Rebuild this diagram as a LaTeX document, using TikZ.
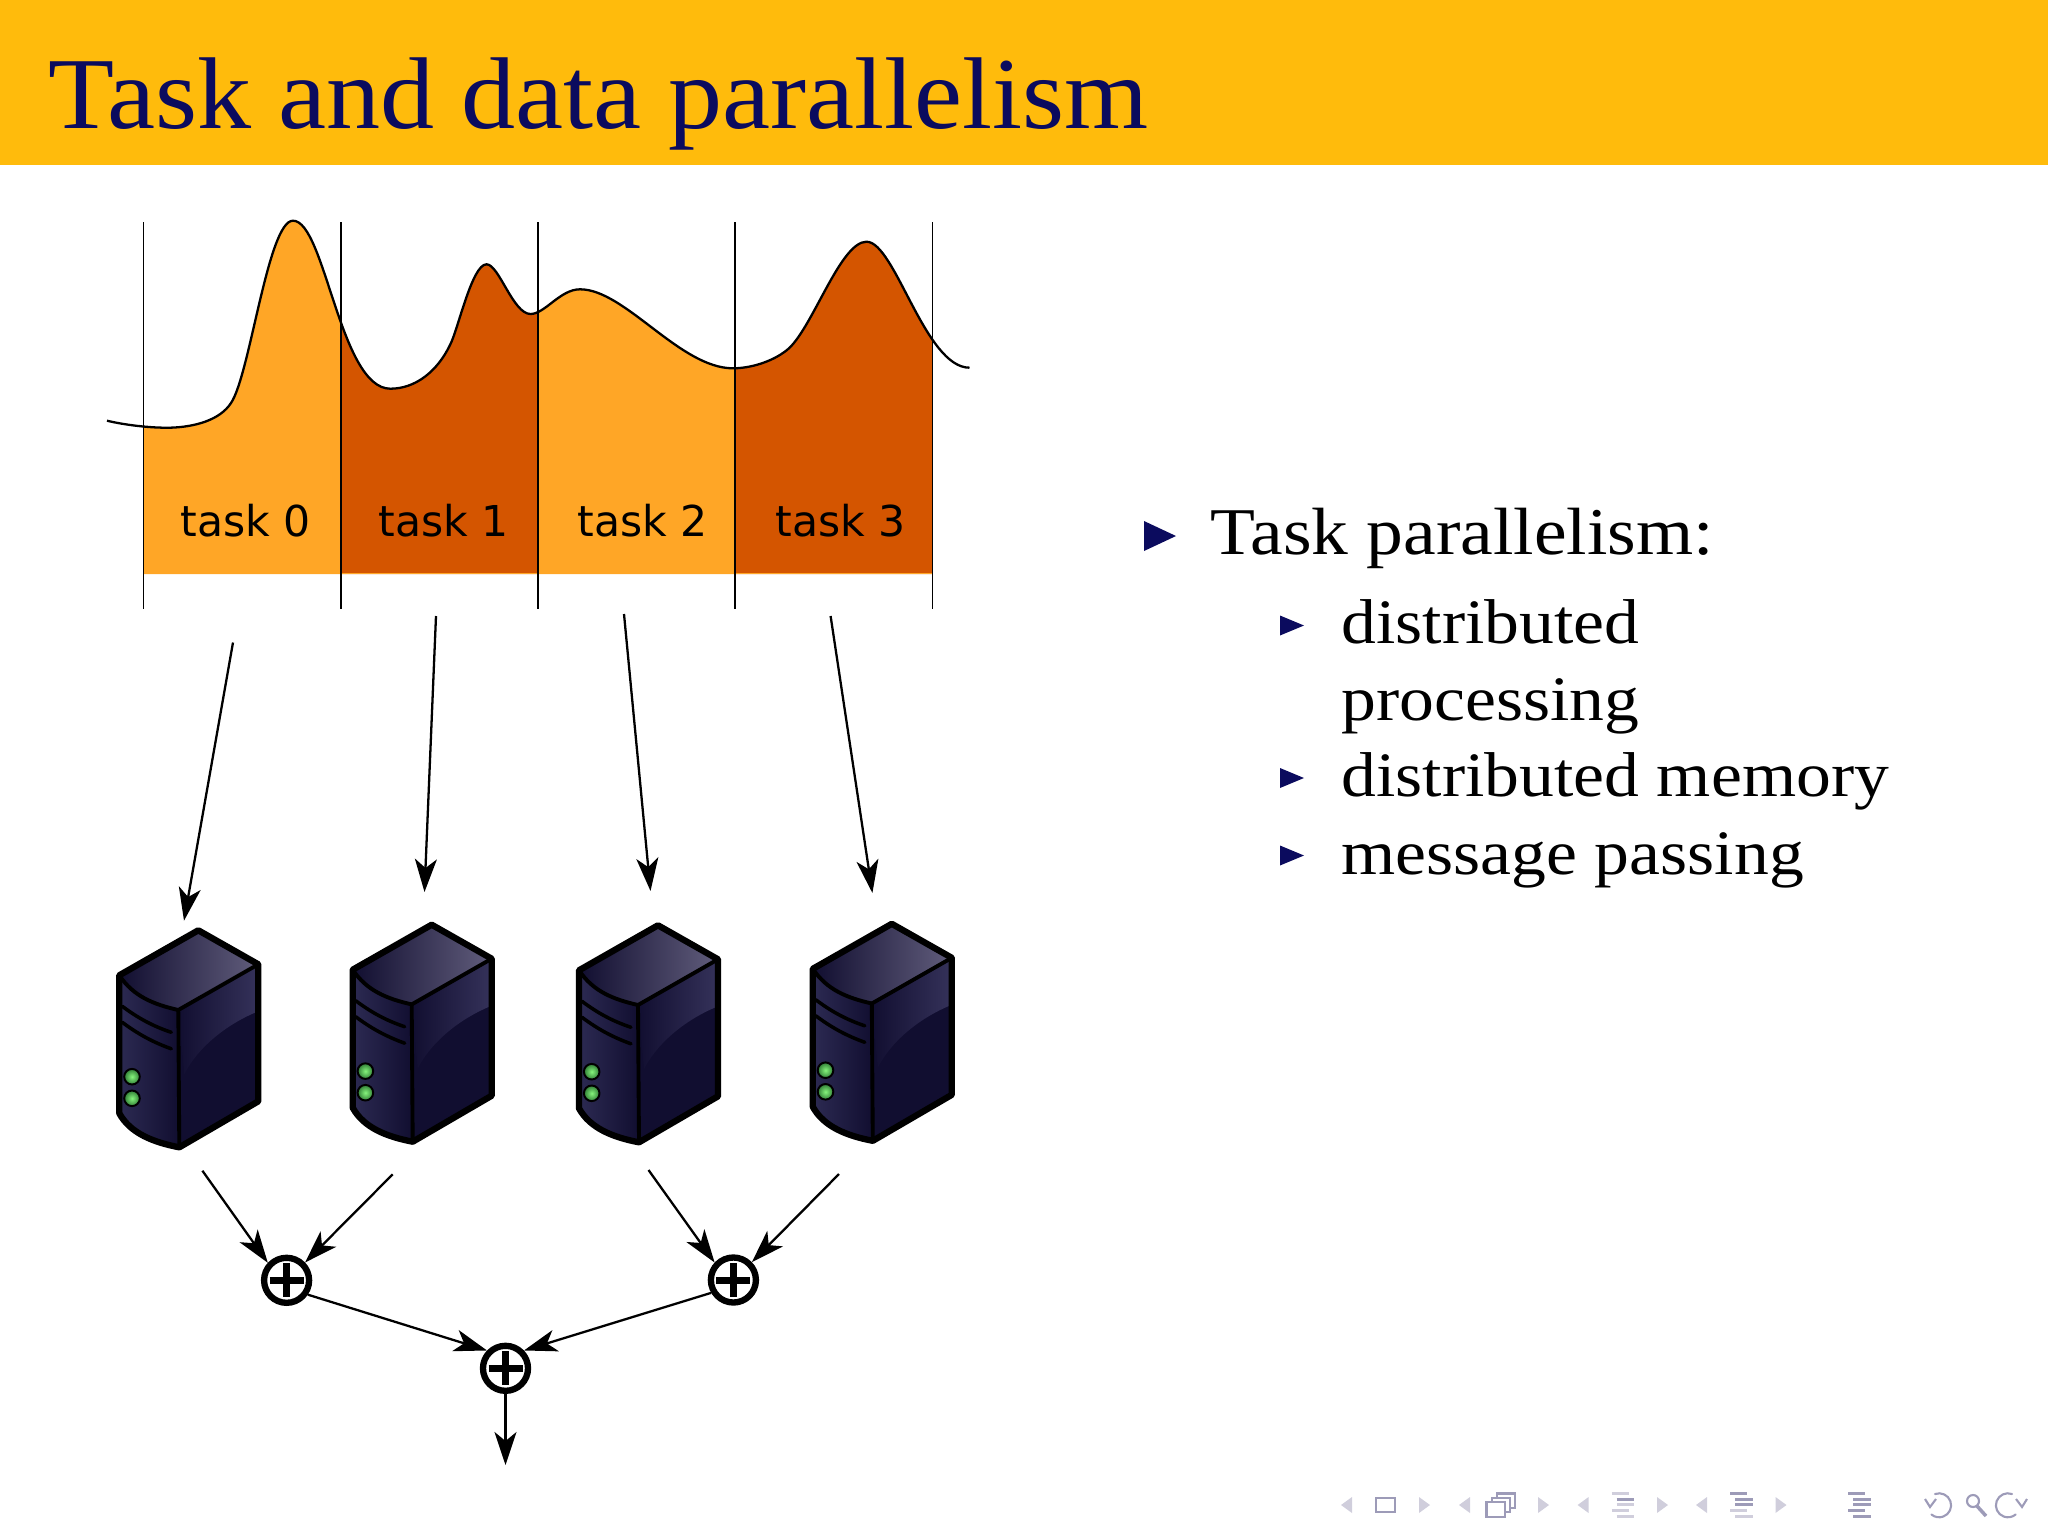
\documentclass[tikz,border=0pt]{standalone}
\usepackage{fontspec}
\usepackage{tikz}
\usetikzlibrary{arrows.meta}
\setmainfont{Liberation Serif}
\newfontfamily\titlefont[FakeStretch=1.06]{Liberation Serif}
\newfontfamily\bodyfont[FakeStretch=1.1]{Liberation Serif}
\newfontfamily\taskfont{DejaVu Sans}

\definecolor{bandcol}{HTML}{FFBB0C}
\definecolor{navycol}{HTML}{0B0B5E}
\definecolor{lightload}{HTML}{FFA626}
\definecolor{darkload}{HTML}{D45500}
\definecolor{srvdeep}{HTML}{110E30}
\definecolor{srvmid}{HTML}{2C2A52}
\definecolor{srvpale}{HTML}{615D7C}
\definecolor{srvgloss}{HTML}{35325A}
\definecolor{ledout}{HTML}{2F7D35}
\definecolor{ledin}{HTML}{86F47C}
\definecolor{navpale}{HTML}{D0CEDC}
\definecolor{navdark}{HTML}{9D9BB8}

\newcommand{\loadcurve}{(107,420.7) .. controls (125,425) and (150,428) .. (170,427.7)
	.. controls (195,427) and (220,420) .. (231,403)
	.. controls (250,375) and (268,220.7) .. (293,220.7)
	.. controls (325,220.7) and (340,388.7) .. (390.3,388.7)
	.. controls (415,388.7) and (437,372) .. (450,345)
	.. controls (458,330) and (472,264.3) .. (486.5,264.3)
	.. controls (499,264.3) and (513,314) .. (530.5,314)
	.. controls (545,314) and (560,289.3) .. (580,289.3)
	.. controls (625,289.3) and (680,368.3) .. (733,368.3)
	.. controls (750,368.3) and (772,362) .. (787,350)
	.. controls (812,330) and (840,241.7) .. (866.5,241.7)
	.. controls (895,241.7) and (925,367.7) .. (969.5,367.7)}

\tikzset{
	flow/.style={-{Stealth[length=3.3mm,width=2.2mm,inset=0.9mm]},line width=0.65pt},
	sum/.style={circle,draw,line width=1.8pt,minimum size=0.45cm,inner sep=0pt,fill=white,
		path picture={
			\draw[line width=2pt] (path picture bounding box.center) +(-17,0) -- +(17,0);
			\draw[line width=2pt] (path picture bounding box.center) +(0,-17) -- +(0,17);
		}},
	led/.style={inner color=ledin,outer color=ledout},
	server/.pic={
		\shade[left color=srvdeep,right color=srvpale] (-79,47) -- (0,2) -- (60,36) -- (-20,81.7) .. controls (-45,76) and (-65,68) .. cycle;
		\shade[left color=srvmid,middle color=srvpale,right color=srvdeep] (-79,47) .. controls (-65,68) and (-45,76) .. (-20,81.7) -- (-19,219) .. controls (-45,214) and (-68,205) .. (-79,185) -- cycle;
		\fill[srvdeep] (-20,81.7) -- (60,36) -- (60,173) -- (-19,219) -- cycle;
		\shade[left color=srvdeep,right color=srvgloss] (-20,81.7) -- (60,36) -- (60,83) .. controls (30,95) and (0,118) .. (-14,146) -- cycle;
		\draw[line width=1.1pt] (-20,81.7) -- (60,36);
		\draw[line width=1.1pt] (-79,47) .. controls (-65,68) and (-45,76) .. (-20,81.7) -- (-19,219);
		\draw[line width=1pt,line cap=round] (-76,78) .. controls (-60,90) and (-45,98) .. (-27,104);
		\draw[line width=1pt,line cap=round] (-76,94) .. controls (-60,106) and (-45,114) .. (-27,120.5);
		\shade[led,draw=black,line width=0.55pt] (-66.3,148.4) circle[radius=7.8];
		\shade[led,draw=black,line width=0.55pt] (-66.3,170) circle[radius=7.8];
		\draw[line width=1.8pt,line join=round] (-79,47) -- (0,2) -- (60,36) -- (60,173) -- (-19,219) .. controls (-45,214) and (-68,205) .. (-79,185) -- cycle;
	}
}

\begin{document}
\begin{tikzpicture}[x=0.01cm,y=-0.01cm,>=Stealth]
	\useasboundingbox (0,0) rectangle (2048,1536);
	\fill[bandcol] (0,0) rectangle (2048,165);
	\node[anchor=base west,inner sep=0pt,text=navycol,font=\titlefont\fontsize{29pt}{34pt}\selectfont] (title) at (48,128) {Task and data parallelism};

	% load curve, cut in four tasks
	\foreach \xa/\xb/\loadcol in {143.5/341/lightload,341/538/darkload,538/735/lightload,735/932.5/darkload}{
		\begin{scope}
			\clip (\xa,200) rectangle (\xb,574);
			\fill[\loadcol] \loadcurve -- (972,574) -- (107,574) -- cycle;
		\end{scope}
	}
	\fill[lightload] (143.5,572.5) rectangle (932.5,574);
	\draw[line width=0.65pt] \loadcurve;
	\foreach \x in {143.5,341,538,735,932.5}
		\draw[line width=0.55pt] (\x,222) -- (\x,609);
	\foreach \n/\x in {0/245.5,1/444,2/642.5,3/841}
		\node[anchor=base,inner sep=0pt,font=\taskfont\fontsize{12.1pt}{14pt}\selectfont] (task\n) at (\x,536.5) {task \n};

	% servers
	\pic (srv0) at (198.3,928.3) {server};
	\pic (srv1) at (431.7,922.7) {server};
	\pic (srv2) at (658,923.3) {server};
	\pic (srv3) at (891.8,921.8) {server};

	\coordinate (tskout0) at (233,642.5);
	\coordinate (srvin0) at (184,920.7);
	\coordinate (tskout1) at (436,616);
	\coordinate (srvin1) at (424.5,892);
	\coordinate (tskout2) at (624,614);
	\coordinate (srvin2) at (650.5,891);
	\coordinate (tskout3) at (830.6,616);
	\coordinate (srvin3) at (872.4,893);
	\foreach \n in {0,1,2,3}
		\draw[flow] (tskout\n) -- (srvin\n);

	% summing tree
	\node[sum] (sum0) at (286.6,1280.3) {};
	\node[sum] (sum1) at (733.4,1280) {};
	\node[sum] (sum2) at (505.5,1368.3) {};
	\coordinate (srvout0) at (202.4,1170.7);
	\coordinate (srvout1) at (392.7,1174.3);
	\coordinate (srvout2) at (648.5,1170);
	\coordinate (srvout3) at (839,1174);
	\coordinate (result) at (505.5,1465);
	\draw[flow] (srvout0) -- (sum0.137);
	\draw[flow] (srvout1) -- (sum0.44);
	\draw[flow] (srvout2) -- (sum1.137);
	\draw[flow] (srvout3) -- (sum1.44);
	\draw[flow] (sum0.-34) -- (sum2.136);
	\draw[flow] (sum1.210) -- (sum2.44);
	\draw[flow] (sum2) -- (result);

	% bullet list
	\fill[navycol] (1144,521) -- (1176,536) -- (1144,551) -- cycle;
	\foreach \y in {625.5,778,855.5}
		\fill[navycol] (1280,\y-10) -- (1304,\y) -- (1280,\y+10) -- cycle;
	\node[anchor=base west,inner sep=0pt,font=\bodyfont\fontsize{19pt}{22pt}\selectfont] (main) at (1210,554) {Task parallelism:};
	\node[anchor=base west,inner sep=0pt,font=\bodyfont\fontsize{18pt}{20pt}\selectfont] (sub0) at (1341,643) {distributed};
	\node[anchor=base west,inner sep=0pt,font=\bodyfont\fontsize{18pt}{20pt}\selectfont] (sub1) at (1341,720.5) {processing};
	\node[anchor=base west,inner sep=0pt,font=\bodyfont\fontsize{18pt}{20pt}\selectfont] (sub2) at (1341,796) {distributed memory};
	\node[anchor=base west,inner sep=0pt,font=\bodyfont\fontsize{18pt}{20pt}\selectfont] (sub3) at (1341,874) {message passing};

	% navigation symbols
	\foreach \x in {1341,1459,1577.6,1696}
		\fill[navpale] (\x+11,1497) -- (\x,1505) -- (\x+11,1513) -- cycle;
	\foreach \x in {1419,1538,1657,1775.5}
		\fill[navpale] (\x,1497) -- (\x+11,1505) -- (\x,1513) -- cycle;
	\draw[navdark,line width=0.6pt] (1376,1498) rectangle (1395,1512);
	\draw[navdark,line width=0.6pt,fill=white] (1497,1493.5) rectangle (1515,1508);
	\draw[navdark,line width=0.6pt,fill=white] (1492,1498) rectangle (1510,1512);
	\draw[navdark,line width=0.6pt,fill=white] (1486.5,1502) rectangle (1505,1517);
	\foreach \x/\cola/\colb/\colc/\cold/\cole in {1611.6/navpale/navdark/navpale/navpale/navpale,1730/navdark/navdark/navdark/navpale/navpale,1848/navdark/navdark/navdark/navdark/navdark}{
		\draw[\cola,line width=0.8pt] (\x,1493.7) -- (\x+17,1493.7);
		\draw[\colb,line width=0.8pt] (\x+5,1499.3) -- (\x+22.5,1499.3);
		\draw[\colc,line width=0.8pt] (\x+5,1504.7) -- (\x+22.5,1504.7);
		\draw[\cold,line width=0.8pt] (\x,1510.7) -- (\x+17,1510.7);
		\draw[\cole,line width=0.8pt] (\x+5,1516.3) -- (\x+22.5,1516.3);
	}
	\draw[navdark,line width=0.6pt,line cap=round] (1935,1494) arc[start angle=-110,end angle=130,radius=12];
	\draw[navdark,line width=0.6pt] (1925,1499) -- (1930,1507) -- (1936,1499);
	\draw[navdark,line width=0.6pt] (1973,1501) circle[radius=6];
	\draw[navdark,line width=1pt] (1977,1506) -- (1986,1516);
	\draw[navdark,line width=0.6pt,line cap=round] (2012,1494) arc[start angle=-70,end angle=-310,radius=12];
	\draw[navdark,line width=0.6pt] (2016,1499) -- (2022,1507) -- (2027,1499);
\end{tikzpicture}
\end{document}
